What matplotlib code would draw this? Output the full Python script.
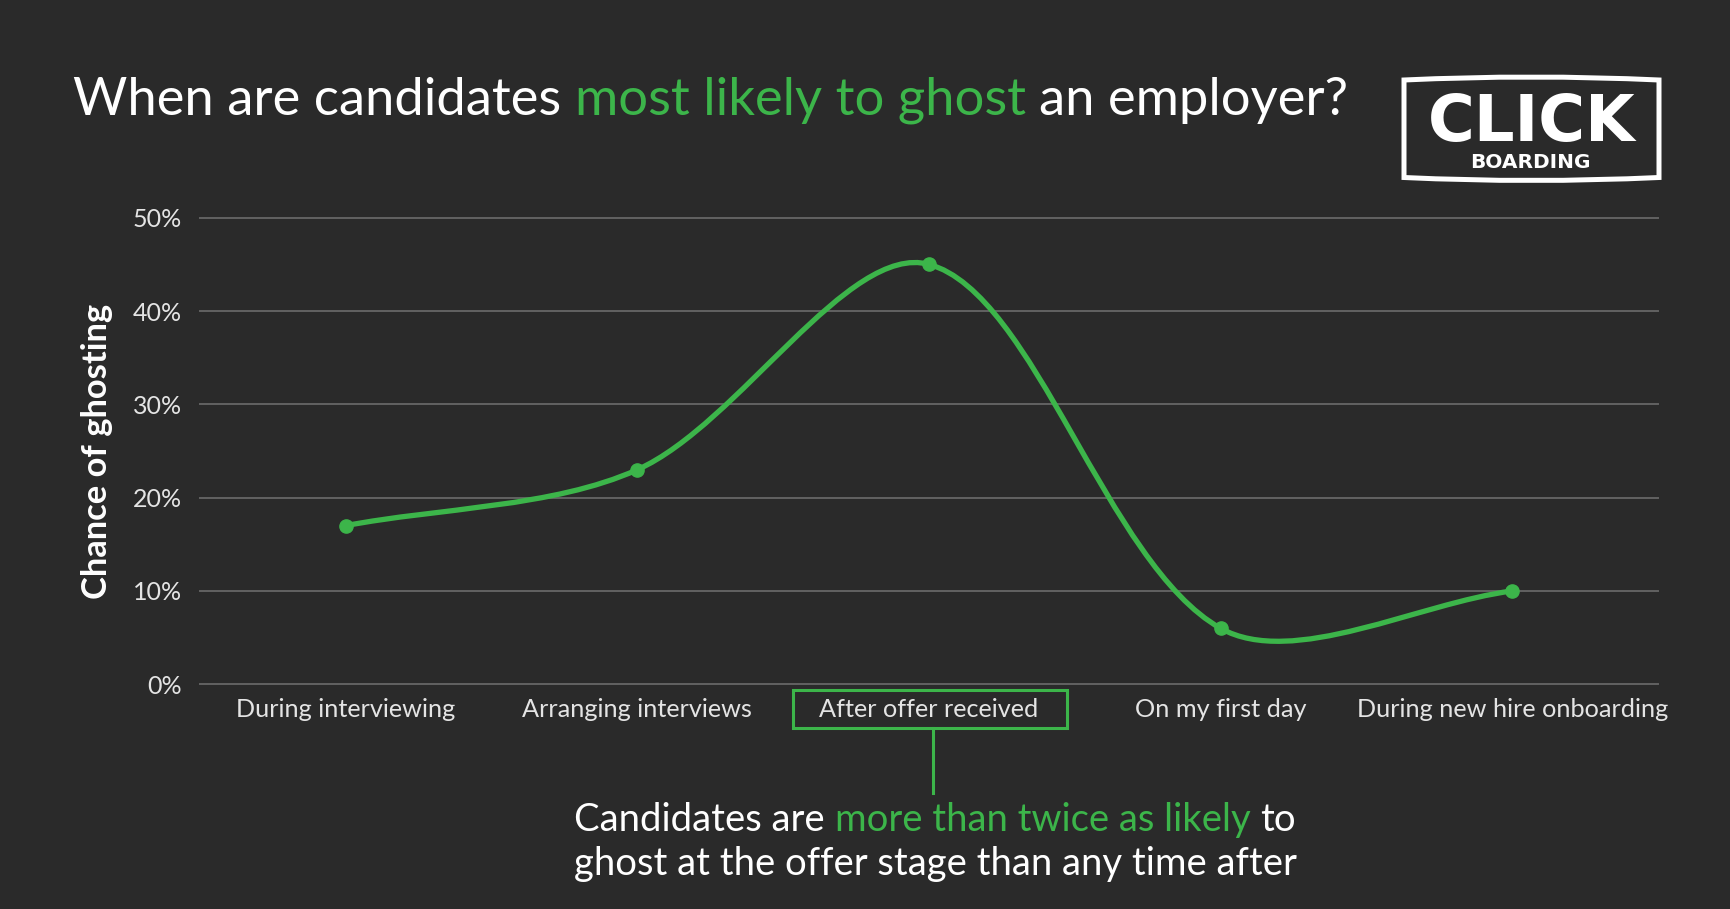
"""Ghosting chance by hiring stage, dark infographic style."""
import matplotlib
matplotlib.use("Agg")
import matplotlib.pyplot as plt
import numpy as np
from matplotlib.path import Path
from matplotlib.patches import PathPatch, Rectangle

BG = "#2a2a2a"
GREEN = "#3cb54a"
WHITE = "#ffffff"
GREY_TXT = "#e4e4e4"

stages = ["During interviewing", "Arranging interviews", "After offer received",
          "On my first day", "During new hire onboarding"]
ghost_pct = [17, 23, 45, 6, 10]
pct_ticks = [0, 10, 20, 30, 40, 50]
pct_labels = [f"{t}%" for t in pct_ticks]

title_parts = [("When are candidates", WHITE), ("most likely to ghost", GREEN),
               ("an employer?", WHITE)]
note_line1 = [("Candidates are", WHITE), ("more than twice as likely", GREEN), ("to", WHITE)]
note_line2 = [("ghost at the offer stage than any time after", WHITE)]

plt.rcParams["font.family"] = ["Lato", "DejaVu Sans"]

W, H = 1731, 909
fig = plt.figure(figsize=(W / 100, H / 100), dpi=100, facecolor=BG)

# main chart
ax = fig.add_axes([200 / W, 1 - 684.3 / H, 1458 / W, (684.3 - 217.7) / H])
ax.set_facecolor("none")
ax.set_xlim(-0.5, 4.5)
ax.set_ylim(0, 50)
ax.set_yticks(pct_ticks, pct_labels)
ax.set_xticks(range(len(stages)), stages)
ax.grid(axis="y", color="#626262", lw=1.4)
ax.grid(axis="x", visible=False)
for gl in ax.get_ygridlines():
    gl.set_clip_on(False)
for sp in ax.spines.values():
    sp.set_visible(False)
ax.tick_params(axis="y", length=0, pad=13, labelsize=18, labelcolor=GREY_TXT)
ax.tick_params(axis="x", length=0, pad=10, labelsize=18.2, labelcolor=GREY_TXT)
ax.set_ylabel("Chance of ghosting", fontsize=24.8, fontweight="bold", color=WHITE)
ax.yaxis.set_label_coords(-0.060, 0.5)


def smooth_path(ax, xs, ys, tension=0.32):
    """Bezier curve through the points, control points like chart.js splineCurve."""
    pts = ax.transData.transform(np.column_stack([xs, ys]))
    n = len(pts)
    ctrl = []
    for i in range(n):
        prev, cur, nxt = pts[max(i - 1, 0)], pts[i], pts[min(i + 1, n - 1)]
        d01 = np.hypot(*(cur - prev))
        d12 = np.hypot(*(nxt - cur))
        fa = tension * d01 / (d01 + d12)
        fb = tension * d12 / (d01 + d12)
        ctrl.append((cur - fa * (nxt - prev), cur + fb * (nxt - prev)))
    verts = [pts[0]]
    codes = [Path.MOVETO]
    for i in range(n - 1):
        verts += [ctrl[i][1], ctrl[i + 1][0], pts[i + 1]]
        codes += [Path.CURVE4] * 3
    verts = ax.transData.inverted().transform(np.array(verts))
    return Path(verts, codes)


xs = np.arange(len(ghost_pct))
ax.add_patch(PathPatch(smooth_path(ax, xs, ghost_pct), fill=False, edgecolor=GREEN,
                       lw=3.8, capstyle="round", zorder=3))
ax.plot(xs, ghost_pct, "o", color=GREEN, ms=9.5, zorder=4)

# overlay in pixel units for the title, logo and note
ov = fig.add_axes([0, 0, 1, 1])
ov.set_xlim(0, W)
ov.set_ylim(H, 0)
ov.axis("off")
ov.patch.set_alpha(0)

renderer = fig.canvas.get_renderer()


def space_width(size):
    a = ov.text(0, 0, "x x", fontsize=size)
    b = ov.text(0, 0, "xx", fontsize=size)
    w = a.get_window_extent(renderer).width - b.get_window_extent(renderer).width
    a.remove()
    b.remove()
    return w


def draw_parts(parts, x, y, size, center=False):
    texts = [ov.text(x, y, s, color=c, fontsize=size, va="baseline", ha="left")
             for s, c in parts]
    widths = [t.get_window_extent(renderer).width for t in texts]
    gap = space_width(size)
    total = sum(widths) + gap * (len(texts) - 1)
    cur = x - total / 2 if center else x
    for t, w in zip(texts, widths):
        t.set_x(cur)
        cur += w + gap


draw_parts(title_parts, 73, 115, 37.85)
draw_parts(note_line1, 935, 831, 27.5, center=True)
draw_parts(note_line2, 935, 875, 27.5, center=True)

# box + connector around the highlighted stage
hx = 930
ov.add_patch(Rectangle((793, 689.5), 274, 38, fill=False, edgecolor=GREEN, lw=2.2))
ov.plot([hx + 3, hx + 3], [727.5, 793], color=GREEN, lw=2.2)

# logo
logo = Path([(1404, 80), (1531, 74), (1659, 80), (1659, 177.5), (1531, 183.5), (1404, 177.5),
             (1404, 80)],
            [Path.MOVETO, Path.CURVE3, Path.CURVE3, Path.LINETO, Path.CURVE3, Path.CURVE3,
             Path.CLOSEPOLY])
ov.add_patch(PathPatch(logo, fill=False, edgecolor=WHITE, lw=3.6))
ov.text(1531.5, 141, "CLICK", fontsize=46, fontweight="bold", family="DejaVu Sans",
        color=WHITE, ha="center", va="baseline")
ov.text(1530.5, 168, "BOARDING", fontsize=14.5, fontweight="bold", family="DejaVu Sans",
        color=WHITE, ha="center", va="baseline")

fig.savefig("out.png", dpi=100, facecolor=BG)
